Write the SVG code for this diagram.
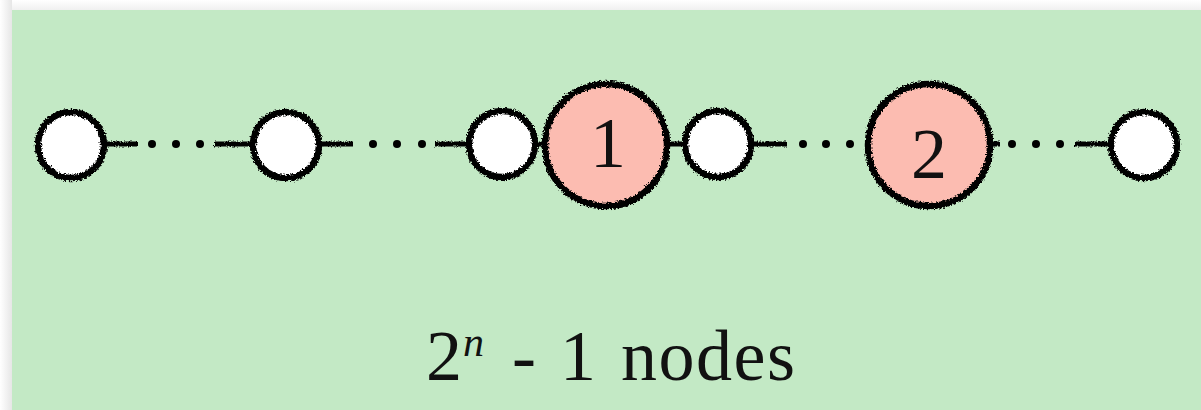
<svg xmlns="http://www.w3.org/2000/svg" width="1201" height="410" viewBox="0 0 1201 410">
  <defs>
    <linearGradient id="shadowL" x1="0" y1="0" x2="1" y2="0">
      <stop offset="0" stop-color="#ffffff"/>
      <stop offset="1" stop-color="#e6e6e6"/>
    </linearGradient>
    <linearGradient id="shadowT" x1="0" y1="0" x2="0" y2="1">
      <stop offset="0" stop-color="#ffffff"/>
      <stop offset="1" stop-color="#f0f0f0"/>
    </linearGradient>
    <filter id="rough" x="-10%" y="-10%" width="120%" height="120%">
      <feTurbulence type="fractalNoise" baseFrequency="0.55" numOctaves="2" seed="3" result="n"/>
      <feDisplacementMap in="SourceGraphic" in2="n" scale="5" xChannelSelector="R" yChannelSelector="G"/>
    </filter>
    <filter id="roughLine" filterUnits="userSpaceOnUse" x="0" y="100" width="1201" height="90">
      <feTurbulence type="fractalNoise" baseFrequency="0.7" numOctaves="2" seed="7" result="n"/>
      <feDisplacementMap in="SourceGraphic" in2="n" scale="3.5" xChannelSelector="R" yChannelSelector="G"/>
    </filter>
    <style>
      .small { fill: #ffffff; }
      .big { fill: #fcbcb1; }
      .ring { fill: none; stroke: #000; stroke-width: 6.5; filter: url(#rough); }
      .seg { stroke: #000; stroke-width: 5; }
      .dot { fill: #000; }
      .lbl { font-family: "Liberation Serif", "Times New Roman", serif; font-size: 72px; fill: #111; text-anchor: middle; }
      .cap { font-family: "Liberation Serif", "Times New Roman", serif; font-size: 72px; fill: #111; }
    </style>
  </defs>

  <rect x="0" y="0" width="1201" height="410" fill="#ffffff"/>
  <rect x="0" y="0" width="12" height="410" fill="url(#shadowL)"/>
  <rect x="12" y="0" width="1189" height="10" fill="url(#shadowT)"/>
  <rect id="panel" x="12" y="10" width="1189" height="400" fill="#c3e9c5"/>

  <g id="connectors">
    <g filter="url(#roughLine)">
      <line class="seg" x1="105" y1="144" x2="138" y2="144"/>
      <line class="seg" x1="214" y1="144" x2="252" y2="144"/>
      <line class="seg" x1="320" y1="144" x2="353" y2="144"/>
      <line class="seg" x1="435" y1="144" x2="470" y2="144"/>
      <line class="seg" x1="534" y1="144" x2="546" y2="144"/>
      <line class="seg" x1="667" y1="144" x2="686" y2="144"/>
      <line class="seg" x1="750" y1="144" x2="787" y2="144"/>
      <line class="seg" x1="990" y1="144" x2="1000" y2="144"/>
      <line class="seg" x1="1075" y1="144" x2="1110" y2="144"/>
    </g>
    <circle class="dot" cx="152" cy="144" r="4"/>
    <circle class="dot" cx="176" cy="144" r="4"/>
    <circle class="dot" cx="200" cy="144" r="4"/>
    <circle class="dot" cx="373" cy="144" r="4"/>
    <circle class="dot" cx="397" cy="144" r="4"/>
    <circle class="dot" cx="422" cy="144" r="4"/>
    <circle class="dot" cx="803" cy="144" r="4"/>
    <circle class="dot" cx="826" cy="144" r="4"/>
    <circle class="dot" cx="850" cy="144" r="4"/>
    <circle class="dot" cx="1012" cy="144" r="4"/>
    <circle class="dot" cx="1036" cy="144" r="4"/>
    <circle class="dot" cx="1060" cy="144" r="4"/>
  </g>

  <g id="nodeA"><circle class="small" cx="71" cy="145" r="33"/><circle class="ring" cx="71" cy="145" r="33"/></g>
  <g id="nodeB"><circle class="small" cx="286" cy="145" r="33"/><circle class="ring" cx="286" cy="145" r="33"/></g>
  <g id="nodeC"><circle class="small" cx="502" cy="144" r="33"/><circle class="ring" cx="502" cy="144" r="33"/></g>
  <g id="node1"><circle class="big" cx="606" cy="145" r="61"/><circle class="ring" cx="606" cy="145" r="61"/><text class="lbl" x="608" y="167">1</text></g>
  <g id="nodeD"><circle class="small" cx="718" cy="144" r="33"/><circle class="ring" cx="718" cy="144" r="33"/></g>
  <g id="node2"><circle class="big" cx="929" cy="145" r="61"/><circle class="ring" cx="929" cy="145" r="61"/><text class="lbl" x="929" y="178">2</text></g>
  <g id="nodeE"><circle class="small" cx="1144" cy="145" r="33"/><circle class="ring" cx="1144" cy="145" r="33"/></g>

  <g id="caption">
    <text class="cap" y="380"><tspan x="426">2</tspan><tspan x="463" y="356" font-size="42" font-style="italic">n</tspan><tspan x="512" y="380">-</tspan><tspan x="560">1</tspan><tspan x="621" textLength="174">nodes</tspan></text>
  </g>
</svg>
